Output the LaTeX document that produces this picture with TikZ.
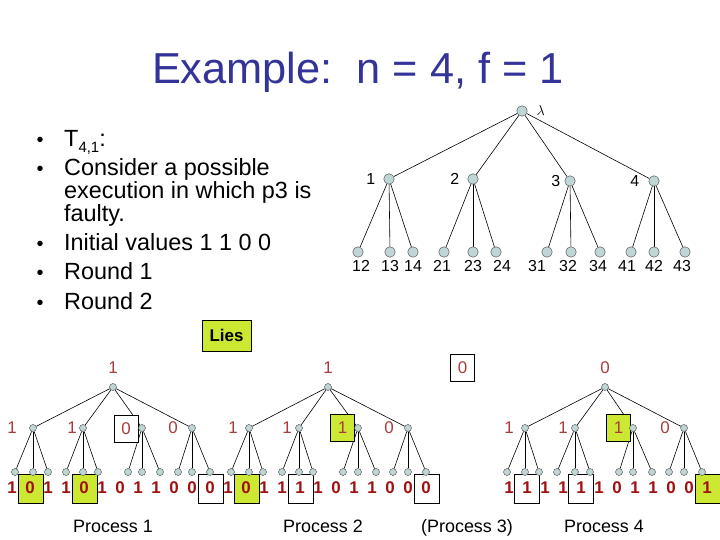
\documentclass[tikz,border=0pt]{standalone}
\usepackage{fontspec}
\setmainfont{Liberation Sans}
\usetikzlibrary{backgrounds}
\definecolor{titleblue}{RGB}{51,51,153}
\definecolor{liegreen}{RGB}{204,232,51}
\definecolor{valred}{RGB}{160,16,16}
\definecolor{lvlred}{RGB}{168,60,60}
\definecolor{vertfill}{RGB}{192,214,214}
\begin{document}
\begin{tikzpicture}[x=1bp, y=-1bp,
    vert/.style={draw=black!75, circle, fill=vertfill, inner sep=0pt, minimum size=10.5bp},
    svert/.style={draw=black!75, circle, fill=vertfill, inner sep=0pt, minimum size=7bp},
    link/.style={draw, line width=0.6bp},
    lbl/.style={font=\fontsize{16}{16}\selectfont, inner sep=1bp},
    bul/.style={font=\fontsize{20}{20}\selectfont, anchor=base, inner sep=0pt},
    itemtext/.style={font=\fontsize{23.5}{23.5}\selectfont, anchor=base west, inner sep=0pt},
    lvl/.style={font=\fontsize{17}{17}\selectfont, text=lvlred, inner sep=0pt},
    val/.style={font=\bfseries\fontsize{17}{17}\selectfont, text=valred, inner sep=0pt},
    lvlbox/.style={draw, line width=0.8bp, minimum width=24bp, minimum height=27bp},
    valbox/.style={draw, line width=0.8bp, minimum width=25bp, minimum height=29bp, inner sep=0pt},
    proc/.style={font=\fontsize{18}{18}\selectfont, anchor=base}]
    \useasboundingbox (0,0) rectangle (720,540);

    % title and bullets
    \node[font=\fontsize{43.5}{43.5}\selectfont, text=titleblue, anchor=base] (title) at (358,84) {Example:\ \ n = 4, f = 1};
    \node[bul] (b1) at (40,147) {•};
    \node[bul] (b2) at (40,176) {•};
    \node[bul] (b3) at (40,251) {•};
    \node[bul] (b4) at (40,280) {•};
    \node[bul] (b5) at (40,309) {•};
    \node[itemtext] (i1)  at (64,147) {T\raisebox{-6bp}{\fontsize{15}{15}\selectfont 4,1}:};
    \node[itemtext] (i2a) at (64,176) {Consider a possible};
    \node[itemtext] (i2b) at (64,199) {execution in which p3 is};
    \node[itemtext] (i2c) at (64,222) {faulty.};
    \node[itemtext] (i3)  at (64,251) {Initial values 1 1 0 0};
    \node[itemtext] (i4)  at (64,280) {Round 1};
    \node[itemtext] (i5)  at (64,309) {Round 2};

    % tree T_{4,1}
    \node[vert, label={[lbl, label distance=8bp]right:{\fontsize{14}{14}\selectfont$\lambda$}}] (lam) at (522,111) {};
    \node[vert, label={[lbl, label distance=7bp]left:1}] (t1) at (389,179) {};
    \node[vert, label={[lbl, label distance=7bp]left:2}] (t2) at (473,179) {};
    \node[vert, label={[lbl, label distance=3bp]left:3}] (t3) at (570,181) {};
    \node[vert, label={[lbl, label distance=8bp]left:4}] (t4) at (654,181) {};
    \node[vert, label={[lbl, label distance=2bp, xshift=3bp]below:12}]  (t12) at (358,252) {};
    \node[vert, label={[lbl, label distance=2bp]below:13}]              (t13) at (390,252) {};
    \node[vert, label={[lbl, label distance=2bp]below:14}]              (t14) at (413,252) {};
    \node[vert, label={[lbl, label distance=2bp, xshift=-2bp]below:21}] (t21) at (444,252) {};
    \node[vert, label={[lbl, label distance=2bp]below:23}]              (t23) at (473,252) {};
    \node[vert, label={[lbl, label distance=2bp, xshift=6bp]below:24}]  (t24) at (496,252) {};
    \node[vert, label={[lbl, label distance=2bp, xshift=-10bp]below:31}] (t31) at (547,252) {};
    \node[vert, label={[lbl, label distance=2bp, xshift=-3bp]below:32}] (t32) at (571,252) {};
    \node[vert, label={[lbl, label distance=2bp, xshift=-2bp]below:34}] (t34) at (600,252) {};
    \node[vert, label={[lbl, label distance=2bp, xshift=-4bp]below:41}] (t41) at (631,252) {};
    \node[vert, label={[lbl, label distance=2bp]below:42}]              (t42) at (654,252) {};
    \node[vert, label={[lbl, label distance=2bp, xshift=-3bp]below:43}] (t43) at (685,252) {};

    \node[draw, fill=liegreen, font=\bfseries\fontsize{17}{17}\selectfont, minimum width=49bp, minimum height=31bp, inner sep=0pt] (lies) at (226.5,335.5) {Lies};

    % process 1
    \node[lvl] (p1v) at (113,368) {1};
    \node[lvl] (p1c1v) at (12,428) {1};
    \node[lvl] (p1c2v) at (72,428) {1};
    \node[lvl, lvlbox, fill=white] (p1c3v) at (126,428.5) {0};
    \node[lvl] (p1c4v) at (173,428) {0};
    \node[svert] (p1) at (113,387) {};
    \node[svert] (p1c1) at (33,428) {};
    \node[svert] (p1c2) at (83,428) {};
    \node[svert] (p1c3) at (142,428) {};
    \node[svert] (p1c4) at (192,428) {};
    \node[valbox, fill=liegreen] (p1b2)  at (30.5,488.5) {};
    \node[valbox, fill=liegreen] (p1b5)  at (85,488.5) {};
    \node[valbox, fill=white]    (p1b12) at (211,488.5) {};
    \foreach \k/\xa/\xb/\xc in {1/15/33/48, 2/66/83/98, 3/128/142/160, 4/178/192/210} {
        \node[svert] (p1l\k-a) at (\xa,472) {};
        \node[svert] (p1l\k-b) at (\xb,472) {};
        \node[svert] (p1l\k-c) at (\xc,472) {};
    }
    \foreach \v [count=\i from 0] in {1,0,1,1,0,1,0,1,1,0,0,0}
        \node[val] (p1x\i) at ({12+18*\i},488) {\v};
    \node[proc] (proc1) at (113,532) {Process 1};

    % process 2
    \node[lvl] (p2v) at (328,368) {1};
    \node[lvl] (p2c1v) at (233,428) {1};
    \node[lvl] (p2c2v) at (287,428) {1};
    \node[lvl, lvlbox, fill=liegreen] (p2c3v) at (342.5,428) {1};
    \node[lvl] (p2c4v) at (389,428) {0};
    \node[svert] (p2) at (328,387) {};
    \node[svert] (p2c1) at (249,428) {};
    \node[svert] (p2c2) at (299,428) {};
    \node[svert] (p2c3) at (358,428) {};
    \node[svert] (p2c4) at (408,428) {};
    \node[valbox, fill=liegreen] (p2b2)  at (246.5,488.5) {};
    \node[valbox, fill=white]    (p2b5)  at (300.5,488.5) {};
    \node[valbox, fill=white]    (p2b12) at (426.5,488.5) {};
    \foreach \k/\xa/\xb/\xc in {1/231/249/263, 2/282/299/313, 3/343/358/376, 4/393/408/426} {
        \node[svert] (p2l\k-a) at (\xa,472) {};
        \node[svert] (p2l\k-b) at (\xb,472) {};
        \node[svert] (p2l\k-c) at (\xc,472) {};
    }
    \foreach \v [count=\i from 0] in {1,0,1,1,1,1,0,1,1,0,0,0}
        \node[val] (p2x\i) at ({228+18*\i},488) {\v};
    \node[proc] (proc2) at (323,532) {Process 2};

    % process 3
    \node[lvl, lvlbox, fill=white] (p3v) at (462.5,367.5) {0};
    \node[proc] (proc3) at (467,532) {(Process 3)};

    % process 4
    \node[lvl] (p4v) at (605,368) {0};
    \node[lvl] (p4c1v) at (509,428) {1};
    \node[lvl] (p4c2v) at (563,428) {1};
    \node[lvl, lvlbox, fill=liegreen] (p4c3v) at (618.5,428) {1};
    \node[lvl] (p4c4v) at (665,428) {0};
    \node[svert] (p4) at (605,387) {};
    \node[svert] (p4c1) at (525,428) {};
    \node[svert] (p4c2) at (575,428) {};
    \node[svert] (p4c3) at (633,428) {};
    \node[svert] (p4c4) at (684,428) {};
    \node[valbox, fill=white]    (p4b2)  at (527,488.5) {};
    \node[valbox, fill=white]    (p4b5)  at (581,488.5) {};
    \node[valbox, fill=liegreen] (p4b12) at (707.5,488.5) {};
    \foreach \k/\xa/\xb/\xc in {1/507/525/539, 2/557/575/590, 3/619/633/652, 4/669/684/702} {
        \node[svert] (p4l\k-a) at (\xa,472) {};
        \node[svert] (p4l\k-b) at (\xb,472) {};
        \node[svert] (p4l\k-c) at (\xc,472) {};
    }
    \foreach \v [count=\i from 0] in {1,1,1,1,1,1,0,1,1,0,0,1}
        \node[val] (p4x\i) at ({509+18*\i},488) {\v};
    \node[proc] (proc4) at (604,532) {Process 4};

    % edges go under the boxes and circles
    \begin{pgfonlayer}{background}
        \foreach \k in {1,...,4}
            \draw[link] (lam) -- (t\k);
        \draw[link] (t1) -- (t12);  \draw[link] (t1) -- (t13);  \draw[link] (t1) -- (t14);
        \draw[link] (t2) -- (t21);  \draw[link] (t2) -- (t23);  \draw[link] (t2) -- (t24);
        \draw[link] (t3) -- (t31);  \draw[link] (t3) -- (t32);  \draw[link] (t3) -- (t34);
        \draw[link] (t4) -- (t41);  \draw[link] (t4) -- (t42);  \draw[link] (t4) -- (t43);
        \foreach \p in {1,2,4} {
            \foreach \k in {1,...,4} {
                \draw[link] (p\p) -- (p\p c\k);
                \foreach \s in {a,b,c}
                    \draw[link] (p\p c\k) -- (p\p l\k-\s);
            }
        }
    \end{pgfonlayer}
\end{tikzpicture}
\end{document}
